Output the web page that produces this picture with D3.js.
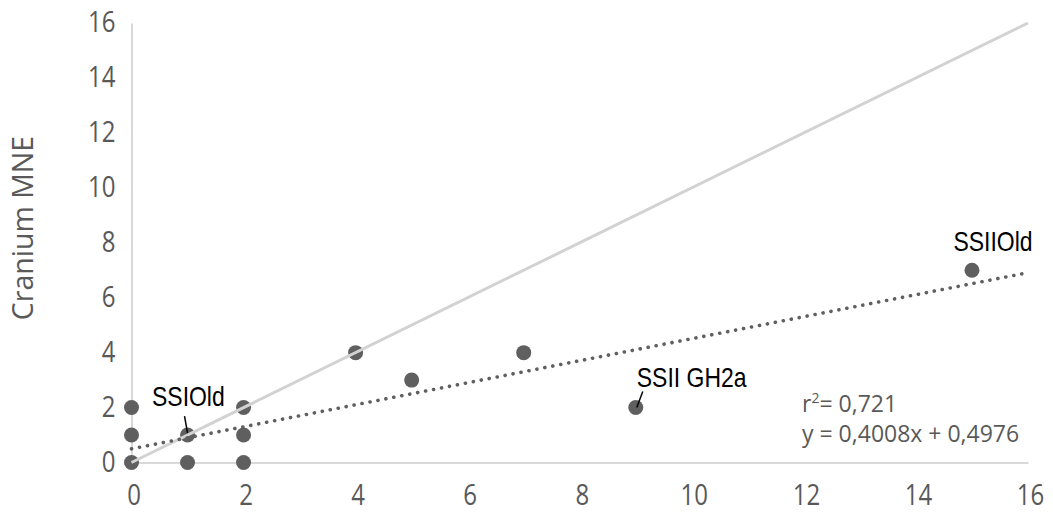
<!DOCTYPE html>
<html>
<head>
<meta charset="utf-8">
<script src="https://cdn.jsdelivr.net/npm/d3@7"></script>
<style>
  html, body { margin: 0; padding: 0; background: #fff; }
  svg { display: block; }
</style>
</head>
<body>
<script>
// Skeletal element counts per assemblage: cranium MNE against a second element's MNE
const xValues = [0, 0, 0, 1, 1, 2, 2, 2, 4, 5, 7, 9, 15];
const yValues = [0, 1, 2, 0, 1, 0, 1, 2, 4, 3, 4, 2, 7];
const xTicks = [0, 2, 4, 6, 8, 10, 12, 14, 16];
const yTicks = [0, 2, 4, 6, 8, 10, 12, 14, 16];
const yTitle = "Cranium MNE";

// Least-squares fit reported on the chart
const slope = 0.4008;
const intercept = 0.4976;
const r2Text = "0,721";
const eqText = "y = 0,4008x + 0,4976";

// Named assemblages with their label offset and leader line (relative to the point)
const callouts = [
  { name: "SSIOld",    x: 1,  y: 1, dx: -35.5, dy: -29, lead: [[-3, -19], [0, -2]] },
  { name: "SSII GH2a", x: 9,  y: 2, dx: 1,     dy: -20.5, lead: [[7, -16], [1, 0]] },
  { name: "SSIIOld",   x: 15, y: 7, dx: -18.5, dy: -19.5, lead: null }
];

const W = 1053, H = 513;
const svg = d3.select("body").append("svg").attr("width", W).attr("height", H);

const x = d3.scaleLinear().domain([0, 16]).range([131.5, 1028]);
const y = d3.scaleLinear().domain([0, 16]).range([462.5, 23]);

const tickColor = "#595959";
const axisColor = "#d9d9d9";
const tickStretch = 1.23;

// Axes
const gx = svg.append("g").attr("transform", `translate(0,${y(0)})`)
  .call(d3.axisBottom(x).tickValues(xTicks).tickSize(0).tickSizeOuter(0).tickFormat(d3.format("d")));
const gy = svg.append("g").attr("transform", `translate(${x(0)},0)`)
  .call(d3.axisLeft(y).tickValues(yTicks).tickSize(0).tickSizeOuter(0).tickFormat(d3.format("d")));
[gx, gy].forEach(g => {
  g.select(".domain").attr("stroke", axisColor).attr("stroke-width", 2);
  g.selectAll("text").attr("fill", tickColor)
    .style("font-family", "'Open Sans', sans-serif").style("font-size", "24px");
});
gx.selectAll(".tick text")
  .attr("y", 0).attr("dy", null)
  .attr("transform", `translate(2,42) scale(1,${tickStretch})`);
gy.selectAll(".tick text")
  .attr("x", 0).attr("dy", "0.3em")
  .attr("transform", `translate(-16,0) scale(1,${tickStretch})`);

// Axis title
svg.append("text")
  .attr("transform", `translate(33,228) rotate(-90)`)
  .attr("text-anchor", "middle")
  .attr("fill", tickColor)
  .style("font-family", "'Open Sans', sans-serif").style("font-size", "28.5px")
  .text(yTitle);

// Data points
svg.append("g").selectAll("circle")
  .data(xValues.map((v, i) => [v, yValues[i]]))
  .join("circle")
  .attr("cx", d => x(d[0])).attr("cy", d => y(d[1]))
  .attr("r", 7.5).attr("fill", "#5f5f5f");

// 1:1 reference line
svg.append("line")
  .attr("x1", x(0)).attr("y1", y(0)).attr("x2", x(16)).attr("y2", y(16))
  .attr("stroke", "#d2d2d2").attr("stroke-width", 3);

// Dotted linear trend
svg.append("line")
  .attr("x1", x(0)).attr("y1", y(intercept))
  .attr("x2", x(16)).attr("y2", y(intercept + slope * 16))
  .attr("stroke", "#5f5f5f").attr("stroke-width", 3.6)
  .attr("stroke-linecap", "round").attr("stroke-dasharray", "0.1 8");

// Callouts (condensed sans)
const cg = svg.append("g");
callouts.forEach(c => {
  const px = x(c.x), py = y(c.y);
  cg.append("text")
    .attr("transform", `translate(${px + c.dx},${py + c.dy}) scale(0.82,1)`)
    .attr("text-anchor", "start")
    .attr("fill", "#000")
    .style("font-family", "'Liberation Sans', Arial, sans-serif")
    .style("font-size", "28px")
    .text(c.name);
  if (c.lead) {
    cg.append("line")
      .attr("x1", px + c.lead[0][0]).attr("y1", py + c.lead[0][1])
      .attr("x2", px + c.lead[1][0]).attr("y2", py + c.lead[1][1])
      .attr("stroke", "#000").attr("stroke-width", 1.5);
  }
});

// Fit statistics
const stats = svg.append("g").attr("fill", tickColor)
  .style("font-family", "'Open Sans', sans-serif").style("font-size", "23px");
const r2 = stats.append("text").attr("x", 802).attr("y", 412);
r2.append("tspan").text("r");
r2.append("tspan").attr("dy", -9).style("font-size", "14px").text("2");
r2.append("tspan").attr("dy", 9).text("= " + r2Text);
stats.append("text").attr("x", 802).attr("y", 442).text(eqText);
</script>
</body>
</html>
